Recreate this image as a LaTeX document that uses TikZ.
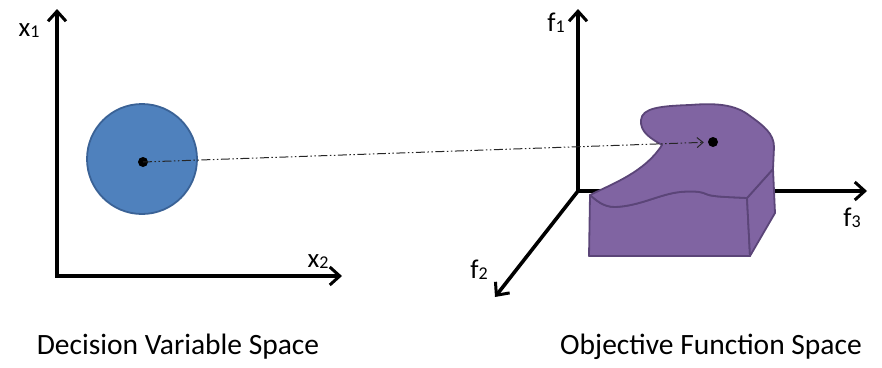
\documentclass[tikz,border=0pt]{standalone}
\usepackage{fontspec}
\setmainfont{Carlito}
\usetikzlibrary{arrows.meta}
\definecolor{cblue}{HTML}{4F81BD}
\definecolor{cblueb}{HTML}{3A6296}
\definecolor{cpurp}{HTML}{8064A2}
\definecolor{cpurpb}{HTML}{5B4578}
\newcommand{\sub}[1]{\raisebox{-1pt}{\fontsize{18}{18}\selectfont #1}}
\begin{document}
\begin{tikzpicture}[x=1pt,y=-1pt,
  axtip/.tip={Straight Barb[length=10pt,width=18pt,line width=3pt]},
  axis/.style={line width=3.6pt,line join=miter},
  lbl/.style={font=\fontsize{27}{29}\selectfont,inner sep=0pt},
  captext/.style={font=\fontsize{29.5}{32}\selectfont,inner sep=0pt},
  solid shape/.style={line width=1.8pt,line join=round},
  dot/.style={circle,fill=black,inner sep=0pt,minimum size=10pt}]
\useasboundingbox (0,0) rectangle (882,367);
% left axes
\coordinate (lo) at (57,276);
\coordinate (lx1) at (57,9);
\coordinate (lx2) at (342,276);
\draw[axis,axtip-axtip] (lx1) -- (lo) -- (lx2);
\node[lbl] (tx1) at (29,31) {x\sub{1}};
\node[lbl] (tx2) at (318,262) {x\sub{2}};
% disc
\node[circle,fill=cblue,draw=cblueb,line width=1.8pt,minimum size=110pt] (disc) at (142,159) {};
\node[dot] (p) at (143,162) {};
% right axes
\coordinate (ro) at (578,191);
\coordinate (rf1) at (578,9);
\coordinate (rf3) at (867,191);
\coordinate (rf2) at (495,297);
\draw[axis,axtip-axtip] (rf1) -- (ro) -- (rf3);
\draw[axis,-axtip] (ro) -- (rf2);
\node[lbl] (tf1) at (556,23) {f\sub{1}};
\node[lbl] (tf3) at (852,218) {f\sub{3}};
\node[lbl] (tf2) at (479,270) {f\sub{2}};
% purple solid
\draw[solid shape,fill=cpurp,draw=cpurpb]
  (590,195) -- (589,256) -- (750,256) -- (747,198)
  .. controls (730,197) and (712,197) .. (706,194)
  .. controls (700,191) and (690,191) .. (680,192)
  .. controls (660,194) and (640,206) .. (615,207)
  .. controls (603,207) and (596,200) .. (590,195) -- cycle;
\draw[solid shape,fill=cpurp,draw=cpurpb]
  (747,198) -- (773,169) -- (775,213) -- (750,256) -- cycle;
\draw[solid shape,fill=cpurp,draw=cpurpb]
  (590,195)
  .. controls (612,184) and (645,172) .. (662,145)
  .. controls (650,138) and (640,132) .. (641,120)
  .. controls (642,108) and (660,106) .. (690,105)
  .. controls (715,103) and (735,104) .. (750,116)
  .. controls (764,126) and (774,134) .. (774,147)
  -- (773,169) -- (747,198)
  .. controls (730,197) and (712,197) .. (706,194)
  .. controls (700,191) and (690,191) .. (680,192)
  .. controls (660,194) and (640,206) .. (615,207)
  .. controls (603,207) and (596,200) .. (590,195) -- cycle;
\node[dot] (q) at (713,142) {};
% mapping line
\draw[line width=1pt,black!85,dash pattern=on 9pt off 2.5pt on 1.5pt off 2.5pt on 1.5pt off 2.5pt,
  -{Straight Barb[length=6pt,width=10pt,line width=1pt]},shorten >=4pt] (p.center) -- (q);
% captions
\node[captext] (c1) at (178,347) {Decision Variable Space};
\node[captext] (c2) at (711,347) {Objective Function Space};
\end{tikzpicture}
\end{document}
